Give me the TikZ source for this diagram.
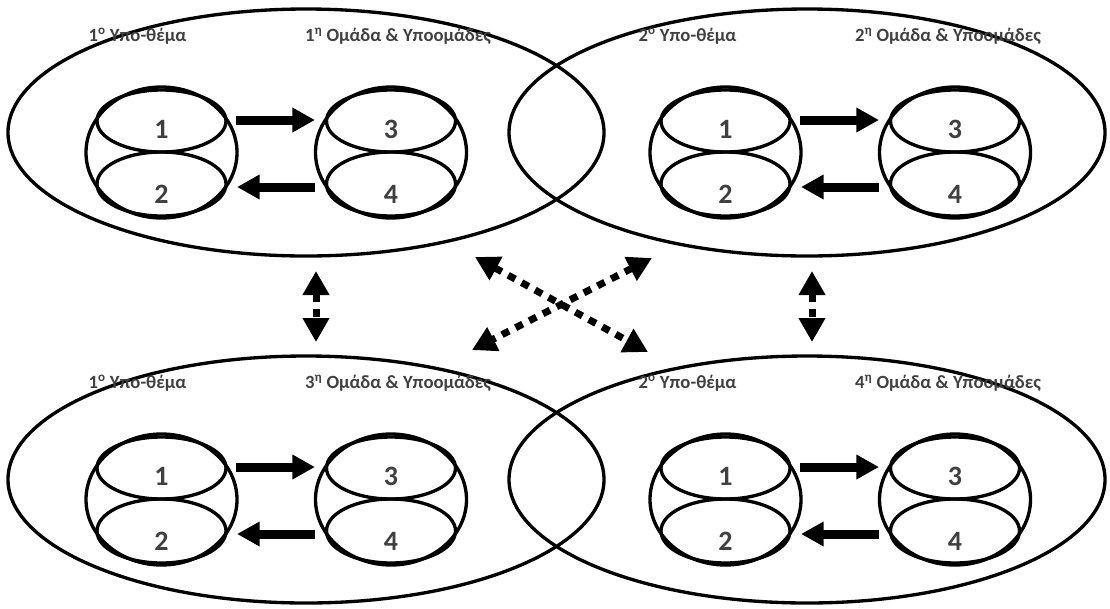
\documentclass[tikz,border=0pt]{standalone}
\usepackage{fontspec}
\setmainfont{Carlito}
\usetikzlibrary{arrows.meta, positioning}
\definecolor{textgray}{RGB}{64,64,64}

\tikzset{
    panel/.style={line width=2.5pt},
    ring/.style={line width=2.5pt},
    digit/.style={text=textgray, font=\fontsize{21}{24}\selectfont\bfseries, inner sep=0pt},
    lbl/.style={text=textgray, font=\fontsize{14}{16}\selectfont\bfseries, inner sep=0pt},
    fatarrow/.style={line width=6.75pt, -{Triangle[length=17pt, width=17.5pt]}},
    dotarrow/.style={line width=5.25pt, dash pattern=on 6pt off 5.5pt,
        {Triangle[length=18pt, width=19pt]}-{Triangle[length=18pt, width=19pt]}}
}

\begin{document}
\begin{tikzpicture}[x=0.75pt, y=-0.75pt]
    \useasboundingbox (0,0) rectangle (1110,608);

    % Four panels: sub-topic ellipse, two groups of subgroups
    \foreach \n/\ex/\gx/\ly/\lx/\sub/\grp in {tl/306/0/0/0/1/1, tr/807/564/0/550/2/2,
                                              bl/306/0/347/0/1/3, br/807/564/347/550/2/4} {
        \draw[panel] (\ex,132.5+\ly) ellipse [x radius=298, y radius=123.5];

        % Titles
        \node[lbl] (\n sub) at (137.5+\lx,36+\ly) {\sub\textsuperscript{ο} Υπο-θέμα};
        \node[lbl] (\n grp) at (401+\lx-3,36+\ly) {\grp\textsuperscript{η} Ομάδα \& Υποομάδες};

        % Groups of two subgroups
        \foreach \cx/\up/\dn/\s in {161.5/1/2/a, 391/3/4/b} {
            \draw[ring] (\cx+\gx,152.5+\ly) ellipse [x radius=75.5, y radius=65.5];
            \draw[ring] (\cx+\gx,121+\ly) ellipse [x radius=64.5, y radius=31];
            \draw[ring] (\cx+\gx,184+\ly) ellipse [x radius=64.5, y radius=32];
            \node[digit] (\n\s1) at (\cx+\gx,129+\ly) {\up};
            \node[digit] (\n\s2) at (\cx+\gx,194+\ly) {\dn};
        }

        % Exchange between the groups
        \coordinate (\n r0) at (236+\gx,120+\ly);
        \coordinate (\n r1) at (315+\gx,120+\ly);
        \coordinate (\n l0) at (315+\gx,187+\ly);
        \coordinate (\n l1) at (237+\gx,187+\ly);
        \draw[fatarrow] (\n r0) -- (\n r1);
        \draw[fatarrow] (\n l0) -- (\n l1);
    }

    % Links between the panels
    \coordinate (vl0) at (316,271);
    \coordinate (vl1) at (316,342);
    \coordinate (vr0) at (812,271);
    \coordinate (vr1) at (812,342);
    \coordinate (xa0) at (475,257);
    \coordinate (xa1) at (648,352);
    \coordinate (xb0) at (652,258);
    \coordinate (xb1) at (472,350);
    \draw[dotarrow] (vl0) -- (vl1);
    \draw[dotarrow] (vr0) -- (vr1);
    \draw[dotarrow] (xa0) -- (xa1);
    \draw[dotarrow] (xb0) -- (xb1);
\end{tikzpicture}
\end{document}
